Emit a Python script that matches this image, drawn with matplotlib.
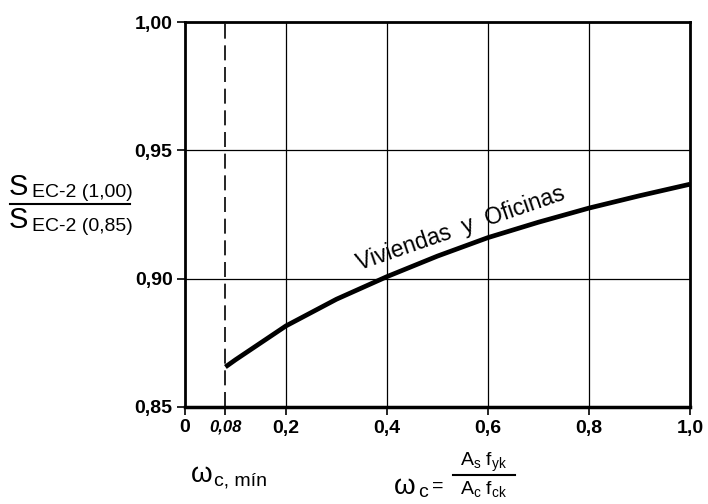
import matplotlib
matplotlib.use("Agg")
import matplotlib.pyplot as plt
from matplotlib.lines import Line2D

plt.rcParams['font.family'] = ['Liberation Sans', 'DejaVu Sans']
plt.rcParams['mathtext.fontset'] = 'custom'
plt.rcParams['mathtext.rm'] = 'Liberation Sans'
plt.rcParams['mathtext.it'] = 'Liberation Sans'

# data
omega = [0.08, 0.1, 0.2, 0.3, 0.4, 0.5, 0.6, 0.7, 0.8, 0.9, 1.0]
ratio = [0.8656, 0.8684, 0.8816, 0.8920, 0.9008, 0.9088, 0.9160, 0.9220, 0.9275, 0.9323, 0.9368]
omega_min = 0.08
curve_label = "Viviendas  y  Oficinas"

x_ticks = [0, 0.08, 0.2, 0.4, 0.6, 0.8, 1.0]
x_ticklabels = ["0", "0,08", "0,2", "0,4", "0,6", "0,8", "1,0"]
x_grid = [0.2, 0.4, 0.6, 0.8]
y_ticks = [0.85, 0.90, 0.95, 1.00]
y_ticklabels = ["0,85", "0,90", "0,95", "1,00"]
y_grid = [0.90, 0.95]

W, H = 708, 504
fig = plt.figure(figsize=(W / 100, H / 100), dpi=100)
ax = fig.add_axes([185 / W, 1 - 407 / H, 505 / W, 385 / H])


def px(x, y):
    return x / W, 1 - y / H


for g in x_grid:
    ax.axvline(g, color="black", lw=0.9, zorder=1)
for g in y_grid:
    ax.axhline(g, color="black", lw=0.9, zorder=1)
ax.axvline(omega_min, color="black", lw=1.2, ls=(0, (9, 4)), zorder=1)

ax.plot(omega, ratio, color="black", lw=3.4, solid_capstyle="butt",
        solid_joinstyle="round", zorder=3)

ax.text(0.545, 0.9195, curve_label, rotation=19, rotation_mode="anchor",
        ha="center", va="center", fontsize=16.5)

ax.set_xlim(0, 1.0)
ax.set_ylim(0.85, 1.00)
ax.set_xticks(x_ticks)
ax.set_xticklabels(x_ticklabels)
ax.set_yticks(y_ticks)
ax.set_yticklabels(y_ticklabels)
ax.tick_params(direction="out", length=6, width=1.2, pad=3, labelsize=14)
for lab in ax.get_xticklabels() + ax.get_yticklabels():
    lab.set_fontweight("bold")
xl = ax.get_xticklabels()[1]
xl.set_fontstyle("italic")
xl.set_fontsize(12)

for s in ["top", "left", "right"]:
    ax.spines[s].set_linewidth(2.0)
ax.spines["bottom"].set_linewidth(2.5)

# y axis label: S_EC-2(1,00) / S_EC-2(0,85)
fig.text(*px(9, 195), "S", fontsize=21, va="baseline", ha="left")
fig.text(*px(32, 197), "EC-2 (1,00)", fontsize=14, va="baseline", ha="left")
fig.add_artist(Line2D([10 / W, 130 / W], [1 - 204 / H, 1 - 204 / H], color="black", lw=1.5))
fig.text(*px(9, 228), "S", fontsize=21, va="baseline", ha="left")
fig.text(*px(32, 231), "EC-2 (0,85)", fontsize=14, va="baseline", ha="left")

# x axis labels
fig.text(*px(191, 482), "ω", fontsize=20, va="baseline", ha="left")
fig.text(*px(214, 486), "c, mín", fontsize=14, va="baseline", ha="left")

fig.text(*px(394, 494), "ω", fontsize=20, va="baseline", ha="left")
fig.text(*px(418, 497), "c", fontsize=14, va="baseline", ha="left")
fig.text(*px(432, 491), "=", fontsize=14, va="baseline", ha="left")
fig.text(*px(484, 466), r"$\mathrm{A_s\ f_{yk}}$", fontsize=14, va="baseline", ha="center")
fig.add_artist(Line2D([453 / W, 515 / W], [1 - 475 / H, 1 - 475 / H], color="black", lw=1.5))
fig.text(*px(484, 494), r"$\mathrm{A_c\ f_{ck}}$", fontsize=14, va="baseline", ha="center")

fig.savefig("out.png", dpi=100)
